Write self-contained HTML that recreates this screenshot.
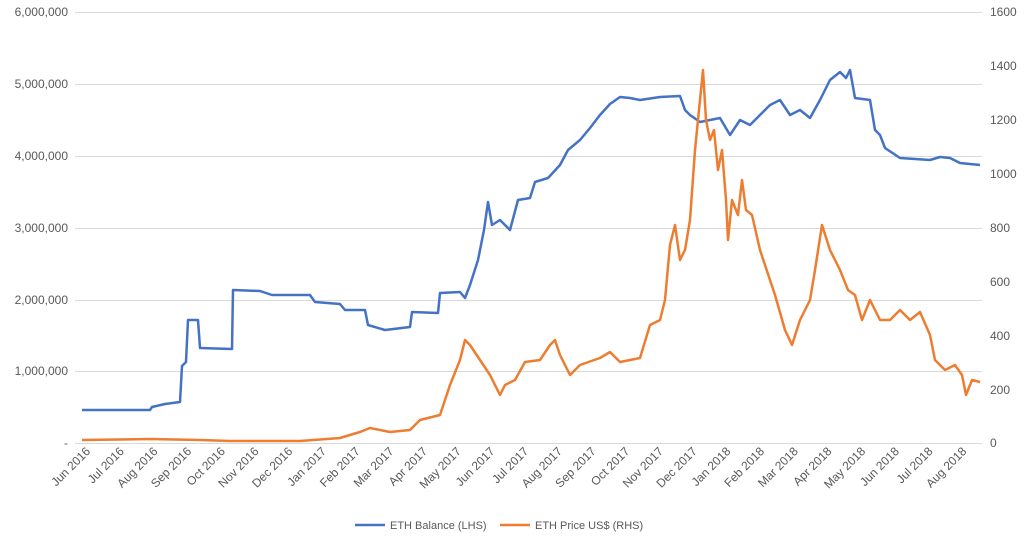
<!DOCTYPE html>
<html><head><meta charset="utf-8"><style>
body{margin:0;background:#fff;}
svg{font-family:"Liberation Sans",sans-serif;font-size:12px;fill:#595959;}
</style></head><body>
<svg width="1024" height="545" viewBox="0 0 1024 545">
<g stroke="#d9d9d9" stroke-width="1">
<line x1="75" y1="12.5" x2="982" y2="12.5"/>
<line x1="75" y1="84.5" x2="982" y2="84.5"/>
<line x1="75" y1="156.5" x2="982" y2="156.5"/>
<line x1="75" y1="228.5" x2="982" y2="228.5"/>
<line x1="75" y1="300.5" x2="982" y2="300.5"/>
<line x1="75" y1="371.5" x2="982" y2="371.5"/>
<line x1="75" y1="443.5" x2="982" y2="443.5"/>
</g>
<g text-anchor="end">
<text x="68" y="16">6,000,000</text>
<text x="68" y="88">5,000,000</text>
<text x="68" y="160">4,000,000</text>
<text x="68" y="232">3,000,000</text>
<text x="68" y="304">2,000,000</text>
<text x="68" y="375">1,000,000</text>
<text x="68" y="447">-</text>
</g>
<g text-anchor="start">
<text x="990" y="16">1600</text>
<text x="990" y="70">1400</text>
<text x="990" y="124">1200</text>
<text x="990" y="178">1000</text>
<text x="990" y="232">800</text>
<text x="990" y="286">600</text>
<text x="990" y="340">400</text>
<text x="990" y="394">200</text>
<text x="990" y="447">0</text>
</g>
<polyline fill="none" stroke="#4472c4" stroke-width="2.5" stroke-linejoin="round" points="82,410 150,410 152,407 165,404 180,402 182,366 186,362 188,320 198,320 200,348 232,349 233,290 260,291 272,295 310,295 315,302 340,304 345,310 365,310 368,325 385,330 410,327 412,312 438,313 440,293 460,292 465,298 470,285 478,260 484,230 488,202 492,225 500,220 510,230 518,200 530,198 535,182 548,178 560,165 568,150 580,140 590,128 600,115 610,104 620,97 630,98 640,100 660,97 680,96 685,110 690,115 700,122 720,118 730,135 740,120 750,125 760,115 770,105 780,100 790,115 800,110 810,118 820,100 830,80 840,72 846,78 850,70 855,98 870,100 875,130 880,135 885,148 900,158 930,160 940,157 950,158 960,163 980,165"/>
<polyline fill="none" stroke="#ed7d31" stroke-width="2.5" stroke-linejoin="round" points="82,440 150,439 200,440 230,441 300,441 340,438 360,432 370,428 390,432 410,430 420,420 440,415 450,385 460,360 465,340 470,345 480,360 490,375 500,395 505,385 515,380 525,362 540,360 550,345 555,340 560,355 570,375 580,365 600,358 610,352 620,362 640,358 650,325 660,320 665,300 670,245 675,225 680,260 685,250 690,220 695,150 700,100 703,70 706,120 710,140 714,130 718,170 722,150 726,200 728,240 732,200 738,215 742,180 746,210 752,215 760,250 770,280 775,295 785,330 792,345 800,320 810,300 815,270 822,225 830,250 840,270 848,290 855,295 862,320 870,300 880,320 890,320 900,310 910,320 920,312 930,335 935,360 945,370 955,365 962,375 966,395 972,380 980,382"/>
<line x1="355" y1="525" x2="385" y2="525" stroke="#4472c4" stroke-width="2.5"/>
<text x="390" y="529" font-size="11">ETH Balance (LHS)</text>
<line x1="500" y1="525" x2="530" y2="525" stroke="#ed7d31" stroke-width="2.5"/>
<text x="535" y="529" font-size="11">ETH Price US$ (RHS)</text>
<g text-anchor="end">
<text transform="translate(91,452) rotate(-45)">Jun 2016</text>
<text transform="translate(124.7,452) rotate(-45)">Jul 2016</text>
<text transform="translate(158.4,452) rotate(-45)">Aug 2016</text>
<text transform="translate(192.1,452) rotate(-45)">Sep 2016</text>
<text transform="translate(225.8,452) rotate(-45)">Oct 2016</text>
<text transform="translate(259.5,452) rotate(-45)">Nov 2016</text>
<text transform="translate(293.2,452) rotate(-45)">Dec 2016</text>
<text transform="translate(326.9,452) rotate(-45)">Jan 2017</text>
<text transform="translate(360.6,452) rotate(-45)">Feb 2017</text>
<text transform="translate(394.3,452) rotate(-45)">Mar 2017</text>
<text transform="translate(428,452) rotate(-45)">Apr 2017</text>
<text transform="translate(461.7,452) rotate(-45)">May 2017</text>
<text transform="translate(495.4,452) rotate(-45)">Jun 2017</text>
<text transform="translate(529.1,452) rotate(-45)">Jul 2017</text>
<text transform="translate(562.8,452) rotate(-45)">Aug 2017</text>
<text transform="translate(596.5,452) rotate(-45)">Sep 2017</text>
<text transform="translate(630.2,452) rotate(-45)">Oct 2017</text>
<text transform="translate(663.9,452) rotate(-45)">Nov 2017</text>
<text transform="translate(697.6,452) rotate(-45)">Dec 2017</text>
<text transform="translate(731.3,452) rotate(-45)">Jan 2018</text>
<text transform="translate(765,452) rotate(-45)">Feb 2018</text>
<text transform="translate(798.7,452) rotate(-45)">Mar 2018</text>
<text transform="translate(832.4,452) rotate(-45)">Apr 2018</text>
<text transform="translate(866.1,452) rotate(-45)">May 2018</text>
<text transform="translate(899.8,452) rotate(-45)">Jun 2018</text>
<text transform="translate(933.5,452) rotate(-45)">Jul 2018</text>
<text transform="translate(967.2,452) rotate(-45)">Aug 2018</text>
</g>
</svg>
</body></html>
